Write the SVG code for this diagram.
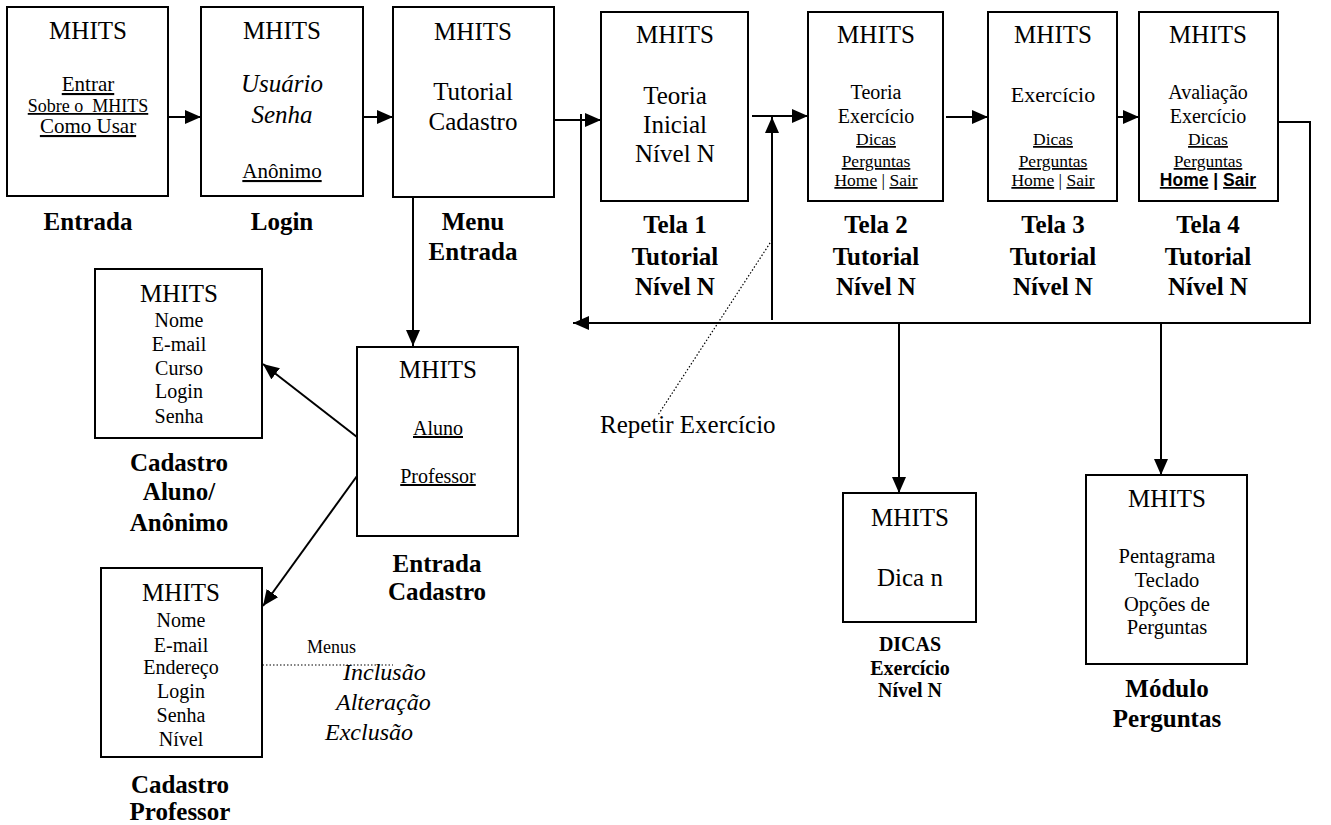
<svg xmlns="http://www.w3.org/2000/svg" width="1331" height="825" viewBox="0 0 1331 825" font-family="'Liberation Serif', 'Times New Roman', serif">
  <style>
    .box { fill: #fff; stroke: #000; stroke-width: 2; }
    text { font-family: 'Liberation Serif', 'Times New Roman', serif; fill: #000; }
    .t { text-anchor: middle; }
    .h { font-size: 25px; }
    .m { font-size: 21px; }
    .s { font-size: 17.5px; }
    .i { font-style: italic; }
    .u { text-decoration: underline; }
    .lbl { font-weight: bold; font-size: 25px; text-anchor: middle; }
    .ln { fill: none; stroke: #000; stroke-width: 2; }
    .dot { fill: none; stroke: #000; stroke-width: 1.2; stroke-dasharray: 1.5 2; }
  </style>
  <defs>
    <marker id="arr" viewBox="0 0 16 14" refX="16" refY="7" markerWidth="16" markerHeight="14" markerUnits="userSpaceOnUse" orient="auto">
      <path d="M0,0 L16,7 L0,14 Z" fill="#000"/>
    </marker>
  </defs>

  <rect width="1331" height="825" fill="#fff"/>

  <!-- connectors -->
  <g id="connectors">
    <line class="ln" x1="158" y1="117" x2="201" y2="117" marker-end="url(#arr)"/>
    <line class="ln" x1="363" y1="117" x2="393" y2="117" marker-end="url(#arr)"/>
    <line class="ln" x1="543" y1="120" x2="601" y2="120" marker-end="url(#arr)"/>
    <line class="ln" x1="581" y1="114" x2="581" y2="323"/>
    <line class="ln" x1="752" y1="116" x2="808" y2="116" marker-end="url(#arr)"/>
    <line class="ln" x1="772" y1="320" x2="772" y2="117" marker-end="url(#arr)"/>
    <line class="ln" x1="946" y1="117" x2="988" y2="117" marker-end="url(#arr)"/>
    <line class="ln" x1="1112" y1="117" x2="1139" y2="117" marker-end="url(#arr)"/>
    <polyline class="ln" points="1278,122 1310,122 1310,323 573,323" marker-end="url(#arr)"/>
    <line class="ln" x1="899" y1="323" x2="899" y2="493" marker-end="url(#arr)"/>
    <line class="ln" x1="1161" y1="323" x2="1161" y2="475" marker-end="url(#arr)"/>
    <line class="ln" x1="413" y1="197" x2="413" y2="346" marker-end="url(#arr)"/>
    <line class="ln" x1="357" y1="437" x2="263" y2="364" marker-end="url(#arr)"/>
    <line class="ln" x1="357" y1="476" x2="263" y2="606" marker-end="url(#arr)"/>
    <line class="dot" x1="772" y1="240" x2="658" y2="415"/>
    <line class="dot" x1="252" y1="665" x2="393" y2="665"/>
  </g>

  <!-- Entrada -->
  <g id="entrada">
    <rect class="box" x="7" y="7" width="161" height="189"/>
    <text class="t h" x="88" y="39">MHITS</text>
    <text class="t m u" x="88" y="91">Entrar</text>
    <text class="t u" x="88" y="112" font-size="18" xml:space="preserve">Sobre o  MHITS</text>
    <text class="t m u" x="88" y="133">Como Usar</text>
    <text class="lbl" x="88" y="230">Entrada</text>
  </g>

  <!-- Login -->
  <g id="login">
    <rect class="box" x="201" y="7" width="162" height="189"/>
    <text class="t h" x="282" y="39">MHITS</text>
    <text class="t h i" x="282" y="92">Usuário</text>
    <text class="t h i" x="282" y="123">Senha</text>
    <text class="t m u" x="282" y="178">Anônimo</text>
    <text class="lbl" x="282" y="230">Login</text>
  </g>

  <!-- Menu Entrada -->
  <g id="menu-entrada">
    <rect class="box" x="393" y="7" width="161" height="190"/>
    <text class="t h" x="473" y="40">MHITS</text>
    <text class="t h" x="473" y="100">Tutorial</text>
    <text class="t h" x="473" y="130">Cadastro</text>
    <text class="lbl" x="473" y="230">Menu</text>
    <text class="lbl" x="473" y="260">Entrada</text>
  </g>

  <!-- Tela 1 -->
  <g id="tela1">
    <rect class="box" x="601" y="12" width="147" height="189"/>
    <text class="t h" x="675" y="43">MHITS</text>
    <text class="t h" x="675" y="104">Teoria</text>
    <text class="t h" x="675" y="133">Inicial</text>
    <text class="t h" x="675" y="162">Nível N</text>
    <text class="lbl" x="675" y="233">Tela 1</text>
    <text class="lbl" x="675" y="265">Tutorial</text>
    <text class="lbl" x="675" y="295">Nível N</text>
  </g>

  <!-- Tela 2 -->
  <g id="tela2">
    <rect class="box" x="808" y="12" width="135" height="189"/>
    <text class="t h" x="876" y="43">MHITS</text>
    <text class="t" x="876" y="99" font-size="20">Teoria</text>
    <text class="t" x="876" y="123" font-size="20">Exercício</text>
    <text class="t s u" x="876" y="145">Dicas</text>
    <text class="t s u" x="876" y="167">Perguntas</text>
    <text class="t s" x="876" y="186"><tspan class="u">Home</tspan> | <tspan class="u">Sair</tspan></text>
    <text class="lbl" x="876" y="233">Tela 2</text>
    <text class="lbl" x="876" y="265">Tutorial</text>
    <text class="lbl" x="876" y="295">Nível N</text>
  </g>

  <!-- Tela 3 -->
  <g id="tela3">
    <rect class="box" x="988" y="12" width="129" height="189"/>
    <text class="t h" x="1053" y="43">MHITS</text>
    <text class="t" x="1053" y="102" font-size="22">Exercício</text>
    <text class="t s u" x="1053" y="145">Dicas</text>
    <text class="t s u" x="1053" y="167">Perguntas</text>
    <text class="t s" x="1053" y="186"><tspan class="u">Home</tspan> | <tspan class="u">Sair</tspan></text>
    <text class="lbl" x="1053" y="233">Tela 3</text>
    <text class="lbl" x="1053" y="265">Tutorial</text>
    <text class="lbl" x="1053" y="295">Nível N</text>
  </g>

  <!-- Tela 4 -->
  <g id="tela4">
    <rect class="box" x="1139" y="12" width="139" height="189"/>
    <text class="t h" x="1208" y="43">MHITS</text>
    <text class="t" x="1208" y="99" font-size="20">Avaliação</text>
    <text class="t" x="1208" y="123" font-size="20">Exercício</text>
    <text class="t s u" x="1208" y="145">Dicas</text>
    <text class="t s u" x="1208" y="167">Perguntas</text>
    <text class="t s" x="1208" y="186" style="font-family:'Liberation Sans', Arial, sans-serif; font-weight:bold"><tspan class="u">Home</tspan> | <tspan class="u">Sair</tspan></text>
    <text class="lbl" x="1208" y="233">Tela 4</text>
    <text class="lbl" x="1208" y="265">Tutorial</text>
    <text class="lbl" x="1208" y="295">Nível N</text>
  </g>

  <!-- Cadastro Aluno / Anônimo -->
  <g id="cadastro-aluno">
    <rect class="box" x="95" y="269" width="167" height="169"/>
    <text class="t h" x="179" y="302">MHITS</text>
    <text class="t" x="179" y="327" font-size="20">Nome</text>
    <text class="t" x="179" y="351" font-size="20">E-mail</text>
    <text class="t" x="179" y="375" font-size="20">Curso</text>
    <text class="t" x="179" y="398" font-size="20">Login</text>
    <text class="t" x="179" y="423" font-size="20">Senha</text>
    <text class="lbl" x="179" y="471">Cadastro</text>
    <text class="lbl" x="179" y="500">Aluno/</text>
    <text class="lbl" x="179" y="531">Anônimo</text>
  </g>

  <!-- Entrada Cadastro -->
  <g id="entrada-cadastro">
    <rect class="box" x="357" y="347" width="161" height="189"/>
    <text class="t h" x="438" y="378">MHITS</text>
    <text class="t u" x="438" y="435" font-size="20">Aluno</text>
    <text class="t u" x="438" y="483" font-size="20">Professor</text>
    <text class="lbl" x="437" y="572">Entrada</text>
    <text class="lbl" x="437" y="600">Cadastro</text>
  </g>

  <!-- Cadastro Professor -->
  <g id="cadastro-professor">
    <rect class="box" x="101" y="568" width="161" height="189"/>
    <text class="t h" x="181" y="601">MHITS</text>
    <text class="t" x="181" y="627" font-size="20">Nome</text>
    <text class="t" x="181" y="652" font-size="20">E-mail</text>
    <text class="t" x="181" y="674" font-size="20">Endereço</text>
    <text class="t" x="181" y="698" font-size="20">Login</text>
    <text class="t" x="181" y="722" font-size="20">Senha</text>
    <text class="t" x="181" y="746" font-size="20">Nível</text>
    <text class="lbl" x="180" y="793">Cadastro</text>
    <text class="lbl" x="180" y="820">Professor</text>
  </g>

  <!-- menus of the teacher registration -->
  <g id="menus">
    <text x="307" y="653" font-size="18">Menus</text>
    <text class="i" x="343" y="680" font-size="24">Inclusão</text>
    <text class="i" x="336" y="710" font-size="24">Alteração</text>
    <text class="i" x="325" y="740" font-size="24">Exclusão</text>
  </g>

  <!-- repeat exercise note -->
  <g id="repetir">
    <text x="600" y="433" font-size="25">Repetir Exercício</text>
  </g>

  <!-- Dicas -->
  <g id="dicas">
    <rect class="box" x="843" y="493" width="133" height="129"/>
    <text class="t h" x="910" y="526">MHITS</text>
    <text class="t h" x="910" y="586">Dica n</text>
    <text class="lbl" x="910" y="651" style="font-size:20px">DICAS</text>
    <text class="lbl" x="910" y="675" style="font-size:20px">Exercício</text>
    <text class="lbl" x="910" y="697" style="font-size:20px">Nível N</text>
  </g>

  <!-- Módulo Perguntas -->
  <g id="modulo-perguntas">
    <rect class="box" x="1086" y="475" width="161" height="189"/>
    <text class="t h" x="1167" y="507">MHITS</text>
    <text class="t" x="1167" y="563" font-size="20.5">Pentagrama</text>
    <text class="t" x="1167" y="587" font-size="20.5">Teclado</text>
    <text class="t" x="1167" y="611" font-size="20.5">Opções de</text>
    <text class="t" x="1167" y="634" font-size="20.5">Perguntas</text>
    <text class="lbl" x="1167" y="697">Módulo</text>
    <text class="lbl" x="1167" y="727">Perguntas</text>
  </g>
</svg>
